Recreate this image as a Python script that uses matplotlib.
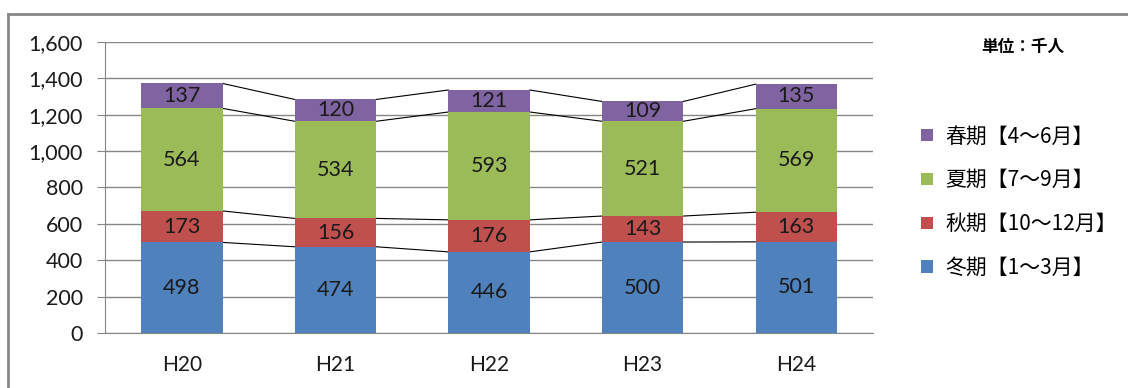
import matplotlib
matplotlib.use("Agg")
import matplotlib.pyplot as plt
from matplotlib.lines import Line2D
from matplotlib.patches import Patch
import numpy as np

plt.rcParams['font.family'] = ['Lato', 'Noto Sans CJK JP', 'DejaVu Sans']

years = ['H20', 'H21', 'H22', 'H23', 'H24']
winter = [498, 474, 446, 500, 501]   # 冬期【1～3月】
autumn = [173, 156, 176, 143, 163]   # 秋期【10～12月】
summer = [564, 534, 593, 521, 569]   # 夏期【7～9月】
spring = [137, 120, 121, 109, 135]   # 春期【4～6月】

series = [
    ('冬期【1～3月】', winter, '#4f81bd'),
    ('秋期【10～12月】', autumn, '#c0504d'),
    ('夏期【7～9月】', summer, '#9bbb59'),
    ('春期【4～6月】', spring, '#8064a2'),
]

fig = plt.figure(figsize=(11.28, 3.88), dpi=100)
ax = fig.add_axes([0.0931, 0.1418, 0.6809, 0.75])

x = np.arange(len(years))
w = 0.53
bottom = np.zeros(len(years))
handles = []
for name, vals, col in series:
    vals = np.array(vals, dtype=float)
    ax.bar(x, vals, w, bottom=bottom, color=col, zorder=3)
    for xi, b, v in zip(x, bottom, vals):
        ax.text(xi, b + v / 2, f'{int(v)}', ha='center', va='center',
                fontsize=15.5, color='#1a1a1a', zorder=4)
    bottom = bottom + vals
    # series lines between neighbouring bars
    for i in range(len(years) - 1):
        ax.plot([x[i] + w / 2, x[i + 1] - w / 2], [bottom[i], bottom[i + 1]],
                color='black', lw=0.8, zorder=2)
    handles.append(Patch(facecolor=col, label=name))

ax.set_xlim(-0.5, len(years) - 0.5)
ax.set_ylim(0, 1600)
ax.set_yticks(range(0, 1601, 200))
ax.yaxis.set_major_formatter(matplotlib.ticker.FuncFormatter(lambda v, p: f'{int(v):,}'))
ax.set_xticks(x)
ax.set_xticklabels(years)
ax.grid(axis='y', color='#868686', lw=1, zorder=0)
ax.tick_params(axis='y', length=6, color='#868686', pad=10, labelsize=15.5, labelcolor='#1a1a1a')
ax.tick_params(axis='x', length=0, pad=16, labelsize=15, labelcolor='#1a1a1a')
for s in ['top', 'right']:
    ax.spines[s].set_visible(False)
for s in ['left', 'bottom']:
    ax.spines[s].set_color('#868686')

leg = fig.legend(handles=handles[::-1], loc='upper left',
                 bbox_to_anchor=(0.8, 0.725), frameon=False,
                 handlelength=0.55, handleheight=0.55, handletextpad=0.6,
                 labelspacing=1.05, prop={'family': ['Noto Sans CJK JP'], 'size': 15})

fig.text(0.907, 0.878, '単位：千人', ha='center', va='center', fontsize=12,
         fontweight='bold', family=['Noto Sans CJK JP'])

# outer frame: left and top edges
fig.add_artist(Line2D([0.0067, 0.0067], [0, 0.965], color='#888888', lw=2,
                      transform=fig.transFigure))
fig.add_artist(Line2D([0.0067, 1.0], [0.965, 0.965], color='#888888', lw=2,
                      transform=fig.transFigure))

fig.savefig('out.png', dpi=100)
